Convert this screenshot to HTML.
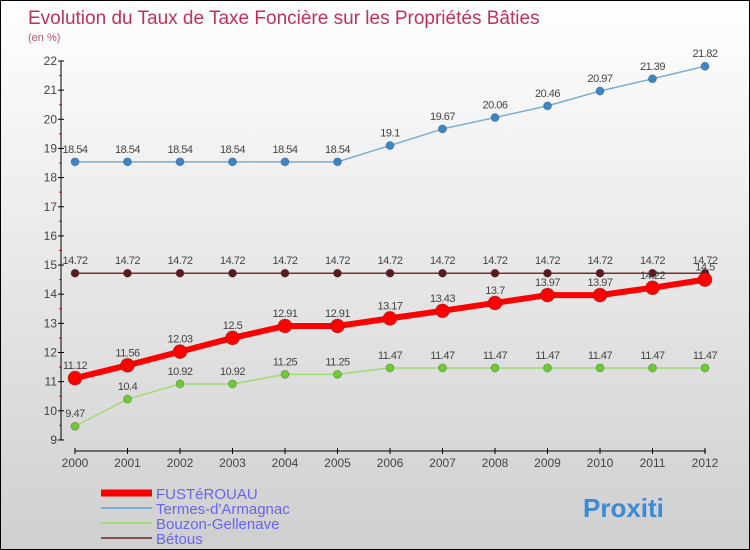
<!DOCTYPE html>
<html><head><meta charset="utf-8"><style>
body{margin:0}
#c{width:748px;height:548px;border:1px solid #000;background:linear-gradient(#fff,#cfcfcf);position:relative;font-family:"Liberation Sans",sans-serif;overflow:hidden}
text{font-family:"Liberation Sans",sans-serif}
</style></head><body>
<div id="c">
<svg id="s" width="748" height="548">
<text x="27" y="23" font-size="19" fill="#c0305a">Evolution du Taux de Taxe Foncière sur les Propriétés Bâties</text>
<text x="27" y="40" font-size="11" fill="#c0507a">(en %)</text>
<g id="g"></g>
</svg>
</div>
<script>
const years=[2000,2001,2002,2003,2004,2005,2006,2007,2008,2009,2010,2011,2012];
const yTicks=[9,10,11,12,13,14,15,16,17,18,19,20,21,22];
const fust=[11.12,11.56,12.03,12.5,12.91,12.91,13.17,13.43,13.7,13.97,13.97,14.22,14.5];
const termes=[18.54,18.54,18.54,18.54,18.54,18.54,19.1,19.67,20.06,20.46,20.97,21.39,21.82];
const bouzon=[9.47,10.4,10.92,10.92,11.25,11.25,11.47,11.47,11.47,11.47,11.47,11.47,11.47];
const betous=[14.72,14.72,14.72,14.72,14.72,14.72,14.72,14.72,14.72,14.72,14.72,14.72,14.72];
const fustLabels=["11.12","11.56","12.03","12.5","12.91","12.91","13.17","13.43","13.7","13.97","13.97","14.22","14.5"];
const X=i=>74+i*52.5, Y=v=>60+(22-v)*29.15;
const g=document.getElementById('g'),NS='http://www.w3.org/2000/svg';
function mk(t,a,p){const e=document.createElementNS(NS,t);for(const k in a)e.setAttribute(k,a[k]);(p||g).appendChild(e);return e;}
let e;
e=mk('line',{x1:60,y1:Y(22),x2:60,y2:Y(9),stroke:'#000'});


e=mk('line',{x1:74,y1:450,x2:705,y2:450,stroke:'#000'});


yTicks.forEach(v=>{
 mk('line',{x1:57,y1:Y(v),x2:63,y2:Y(v),stroke:'#000'});
 if(v<22)mk('line',{x1:58,y1:Y(v+0.5),x2:61,y2:Y(v+0.5),stroke:'#e00'});
 e=mk('text',{x:56,y:Y(v)+4,'font-size':12,'text-anchor':'end',fill:'#444'});e.textContent=v;
 
 
});
years.forEach((y,i)=>{
 mk('line',{x1:X(i),y1:447,x2:X(i),y2:453,stroke:'#000'});
 e=mk('text',{x:X(i),y:466,'font-size':12,'text-anchor':'middle',fill:'#444'});e.textContent=y;
 
 
});
function series(vals,labels,color,fill,w,r,name){
 e=mk('polyline',{points:vals.map((v,i)=>X(i)+','+Y(v)).join(' '),fill:'none',stroke:color,'stroke-width':w});
 
 
 vals.forEach((v,i)=>{
  e=mk('circle',{cx:X(i),cy:Y(v),r:r,fill:fill,stroke:'#333','stroke-opacity':0.3});
  
  
  e=mk('text',{x:X(i),y:Y(v)-9,'font-size':11,'text-anchor':'middle',fill:'#444','letter-spacing':'-0.5'});e.textContent=labels?labels[i]:v;
  
  
 });
}
series(termes,null,'#7aaed6','#3a86c6',1.5,4,'termes');
series(bouzon,null,'#9ddc70','#6ccc30',1.5,4,'bouzon');
series(betous,null,'#7a3030','#5a1a1a',1.5,4,'betous');
series(fust,fustLabels,'#f00','#f00',6,7,'fusterouau');
const leg=[['FUSTéROUAU','#f00',7],['Termes-d\'Armagnac','#7aaed6',2],['Bouzon-Gellenave','#9ddc70',2],['Bétous','#8a5050',2]];
leg.forEach((l,i)=>{
 const y=492+i*15;
 e=mk('line',{x1:100,y1:y,x2:151,y2:y,stroke:l[1],'stroke-width':l[2]});
 
 
 e=mk('text',{x:155,y:y+6,'font-size':15,fill:'#6666ee'});e.textContent=l[0];
 
 
});
e=mk('text',{x:582,y:516,'font-size':26,'font-weight':'bold',fill:'#3a8ad6'});e.textContent='Proxiti';


</script>
</body></html>
